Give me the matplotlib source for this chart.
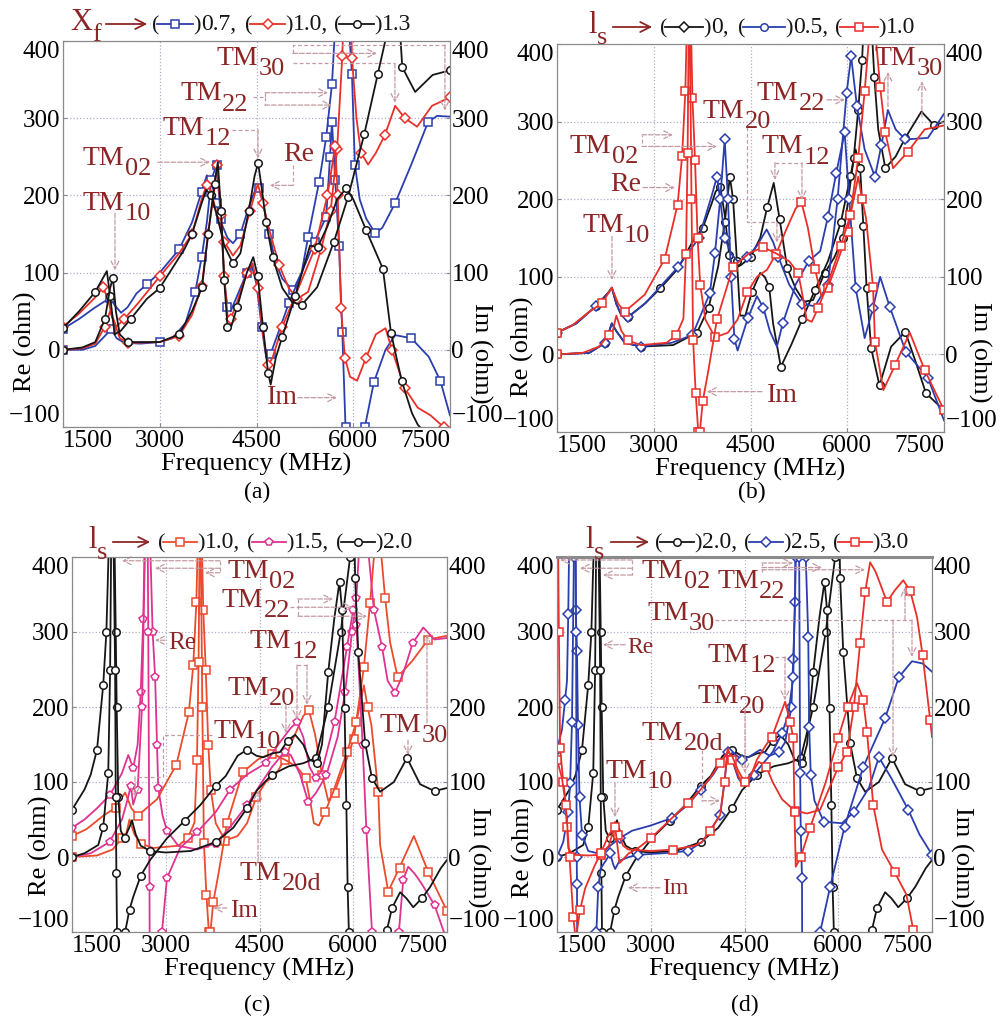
import matplotlib
matplotlib.use("Agg")
import matplotlib.pyplot as plt
from matplotlib.lines import Line2D
from matplotlib.patches import FancyArrowPatch
from matplotlib.text import Annotation

W, H = 1002, 1025
plt.rcParams["font.family"] = ["Liberation Serif", "DejaVu Serif"]

BLUE = "#2b3eae"
RED = "#e8302a"
ORANGE = "#ec4a2c"
PINK = "#e03290"
BLACK = "#161616"
DARK = "#8c2626"
ARROW = "#c49aa2"
GRID = "#b4accb"
SPINE = "#8a8a8a"

FREQ_TICKS = [1500, 3000, 4500, 6000, 7500]
OHM_TICKS = [-100, 0, 100, 200, 300, 400]

# ---- (a) feed position X_f = 0.7 / 1.0 / 1.3 ----
A_BLUE_RE_F = [1500, 1750, 2000, 2150, 2230, 2300, 2400, 2500, 2640, 2800, 3000, 3300, 3500, 3650, 3730, 3800, 3880, 3950, 4050, 4135, 4250, 4380, 4480, 4540, 4600, 4700, 4790, 4900, 5065, 5200, 5300, 5470, 5580, 5670, 5720, 5780, 5850, 5930, 5980, 6025, 6100, 6200, 6340, 6450, 6650, 6900, 7160, 7300, 7500]
A_BLUE_RE = [27, 40, 55, 63, 67, 58, 48, 55, 73, 85, 100, 130, 165, 205, 226, 218, 190, 165, 145, 138, 150, 185, 207, 210, 190, 150, 115, 92, 77, 100, 146, 217, 275, 344, 420, 500, 500, 420, 357, 240, 195, 170, 151, 158, 190, 240, 295, 303, 302]
A_BLUE_IM_F = [1500, 1800, 2000, 2150, 2250, 2330, 2450, 2700, 3000, 3200, 3400, 3550, 3650, 3730, 3800, 3880, 3950, 4000, 4050, 4100, 4200, 4350, 4430, 4500, 4580, 4650, 4720, 4850, 5000, 5200, 5400, 5580, 5640, 5670, 5720, 5780, 5830, 5880, 5950, 6150, 6180, 6320, 6500, 6650, 6900, 7170, 7350, 7500]
A_BLUE_IM = [0, 0, 5, 18, 27, 15, 9, 8, 10, 15, 35, 75, 120, 165, 220, 240, 170, 90, 55, 50, 70, 100, 108, 85, 30, -10, -5, 25, 60, 100, 140, 172, 250, 295, 220, 134, 23, -100, -300, -300, -100, -42, 0, 19, 15, -9, -40, -85]
A_RED_RE_F = [1500, 1750, 2000, 2120, 2200, 2260, 2330, 2450, 2660, 3000, 3300, 3500, 3650, 3730, 3800, 3900, 4000, 4135, 4250, 4400, 4520, 4600, 4700, 4850, 5000, 5130, 5300, 5500, 5650, 5750, 5830, 5870, 5950, 5980, 6050, 6120, 6230, 6350, 6490, 6650, 6800, 6990, 7220, 7500]
A_RED_RE = [30, 47, 68, 81, 65, 42, 30, 40, 60, 95, 125, 150, 195, 214, 205, 170, 140, 122, 135, 180, 215, 190, 155, 110, 80, 66, 75, 130, 180, 260, 380, 480, 480, 378, 300, 255, 240, 255, 278, 316, 300, 289, 316, 327]
A_RED_IM_F = [1500, 1800, 2000, 2150, 2230, 2280, 2380, 2500, 3000, 3300, 3500, 3650, 3750, 3850, 3890, 3950, 4000, 4050, 4100, 4200, 4350, 4440, 4520, 4600, 4680, 4750, 4900, 5100, 5400, 5600, 5720, 5760, 5810, 5870, 5950, 6060, 6200, 6350, 6500, 6600, 6800, 7000, 7200, 7400, 7500]
A_RED_IM = [0, 2, 8, 30, 50, 40, 15, 9, 10, 18, 45, 82, 150, 210, 240, 175, 95, 45, 40, 62, 100, 112, 80, 20, -20, -10, 30, 70, 130, 200, 264, 200, 54, -10, -35, -40, -10, 20, 28, 0, -50, -75, -85, -100, -115]
A_BLACK_RE_F = [1500, 1750, 2000, 2100, 2180, 2230, 2300, 2400, 2550, 2800, 3000, 3380, 3500, 3650, 3720, 3800, 3900, 4000, 4135, 4250, 4380, 4470, 4525, 4580, 4650, 4750, 4900, 5050, 5200, 5440, 5700, 5920, 6170, 6380, 6550, 6650, 6720, 6760, 6960, 7230, 7500]
A_BLACK_RE = [28, 50, 75, 90, 102, 70, 20, 25, 40, 66, 80, 130, 150, 190, 207, 200, 170, 135, 112, 125, 180, 225, 242, 210, 165, 120, 80, 62, 58, 81, 140, 198, 279, 357, 420, 480, 420, 366, 334, 356, 362]
A_BLACK_IM_F = [1500, 1800, 2000, 2150, 2230, 2275, 2320, 2380, 2500, 3000, 3300, 3500, 3655, 3750, 3850, 3900, 3950, 4000, 4050, 4100, 4200, 4350, 4450, 4520, 4600, 4680, 4720, 4800, 4900, 5100, 5330, 5450, 5600, 5750, 5890, 6000, 6200, 6460, 6585, 6750, 6910, 7000, 7200]
A_BLACK_IM = [0, 3, 10, 40, 80, 93, 50, 20, 10, 10, 20, 50, 81, 150, 215, 243, 180, 90, 30, 28, 55, 100, 120, 95, 30, -30, -45, -10, 17, 70, 135, 133, 160, 195, 209, 195, 155, 105, 22, -40, -82, -97, -115]

# ---- (b) stub length l_s = 0 / 0.5 / 1.0 ----
B_BLACK_RE_F = [1500, 1800, 2100, 2300, 2350, 2420, 2500, 2600, 2870, 3100, 3370, 3600, 3760, 3900, 3960, 4030, 4100, 4170, 4230, 4350, 4500, 4650, 4760, 4860, 4950, 5070, 5200, 5330, 5470, 5650, 5800, 5930, 6000, 6100, 6170, 6230, 6270, 6360, 6420, 6480, 6590, 6750, 6900, 7150, 7350, 7500]
B_BLACK_RE = [28, 40, 62, 80, 86, 65, 50, 48, 66, 85, 110, 145, 163, 195, 210, 216, 180, 128, 110, 115, 125, 150, 190, 221, 175, 111, 85, 68, 70, 105, 125, 150, 190, 253, 315, 380, 450, 450, 357, 290, 240, 255, 279, 313, 295, 300]
B_BLACK_IM_F = [1500, 2000, 2250, 2350, 2420, 2550, 2800, 3300, 3670, 3850, 4000, 4100, 4180, 4230, 4290, 4340, 4420, 4520, 4650, 4720, 4790, 4850, 4970, 5130, 5300, 5500, 5700, 5900, 6050, 6130, 6200, 6250, 6300, 6370, 6500, 6680, 6900, 7050, 7220, 7500]
B_BLACK_IM = [0, 2, 15, 40, 30, 15, 10, 12, 28, 60, 114, 170, 229, 200, 120, 50, 50, 80, 105, 100, 87, 40, -16, 12, 45, 83, 120, 170, 230, 264, 240, 165, 86, 8, -40, 10, 29, -7, -50, -72]
B_BLUE_RE_F = [1500, 1800, 2100, 2300, 2350, 2420, 2500, 2600, 2870, 3370, 3700, 3900, 3980, 4030, 4100, 4200, 4300, 4450, 4600, 4750, 4850, 4930, 5100, 5300, 5500, 5700, 5850, 5990, 6060, 6150, 6270, 6430, 6530, 6630, 6750, 6900, 7250, 7500]
B_BLUE_RE = [28, 40, 62, 80, 86, 65, 50, 48, 66, 112, 150, 205, 229, 200, 150, 130, 120, 125, 140, 161, 145, 126, 90, 65, 62, 90, 200, 337, 384, 320, 264, 229, 270, 315, 290, 277, 279, 310]
B_BLUE_IM_F = [1500, 2000, 2250, 2350, 2420, 2550, 2800, 3280, 3600, 3870, 3950, 4030, 4100, 4150, 4200, 4250, 4300, 4460, 4600, 4700, 4800, 4910, 5000, 5200, 5400, 5580, 5700, 5830, 5960, 6030, 6130, 6270, 6400, 6510, 6660, 6910, 7250, 7500]
B_BLUE_IM = [0, 2, 15, 40, 30, 15, 10, 15, 25, 79, 131, 200, 277, 200, 100, 20, 5, 47, 75, 60, 30, 10, 40, 90, 120, 133, 177, 234, 286, 200, 86, 21, 60, 100, 61, 3, -30, -85]

# l_s = 1.0 appears in (b) and (c)
LS10_RE_F = [1500, 1730, 2000, 2200, 2350, 2450, 2550, 2860, 3170, 3370, 3440, 3490, 3520, 3570, 3600, 3640, 3680, 3720, 3800, 3950, 4150, 4300, 4450, 4600, 4755, 4900, 5050, 5200, 5290, 5390, 5500, 5600, 5700, 5850, 6010, 6170, 6270, 6350, 6430, 6510, 6590, 6710, 6940, 7200, 7500]
LS10_RE = [28, 37, 55, 66, 86, 65, 55, 77, 123, 193, 256, 340, 450, 450, 330, 250, 150, 90, 45, 22, 28, 45, 80, 100, 109, 130, 160, 188, 196, 163, 110, 75, 86, 120, 158, 253, 339, 420, 420, 345, 286, 240, 261, 290, 295]
LS10_IM_F = [1500, 1900, 2150, 2300, 2370, 2420, 2500, 2600, 2800, 3200, 3350, 3460, 3500, 3525, 3545, 3560, 3585, 3610, 3650, 3690, 3705, 3715, 3760, 3840, 3980, 4230, 4490, 4700, 4900, 5100, 5240, 5320, 5370, 5450, 5550, 5680, 5900, 6050, 6170, 6230, 6290, 6400, 6430, 6560, 6740, 6970, 7200, 7500]
LS10_IM = [0, 2, 10, 25, 32, 50, 30, 18, 12, 15, 25, 46, 130, 260, 450, 420, 200, 19, -50, -100, -400, -100, -60, -24, 45, 113, 131, 138, 130, 120, 105, 70, 45, 42, 60, 87, 140, 180, 229, 200, 176, 87, 16, -46, -14, 28, -20, -72]

# ---- (c) l_s = 1.5 ----
C_PINK_RE_F = [1500, 1700, 1900, 2110, 2300, 2400, 2480, 2550, 2600, 2640, 2670, 2700, 2740, 2790, 2830, 2860, 2880, 2950, 3020, 3200, 3500, 3800, 4030, 4300, 4500, 4700, 4900, 5000, 5150, 5280, 5400, 5570, 5750, 5870, 5980, 6050, 6100, 6170, 6250, 6330, 6460, 6550, 6670, 6800, 6950, 7120, 7300, 7500]
C_PINK_RE = [39, 50, 65, 83, 112, 136, 119, 150, 220, 318, 450, 600, 450, 300, 240, 150, 92, 55, 35, 15, 10, 18, 40, 69, 95, 120, 140, 136, 110, 73, 85, 109, 160, 220, 300, 345, 420, 450, 400, 330, 280, 235, 219, 245, 285, 306, 290, 292]
C_PINK_IM_F = [1500, 1800, 2100, 2300, 2400, 2440, 2480, 2550, 2620, 2670, 2700, 2720, 2740, 2760, 2920, 2940, 3020, 3230, 3500, 3800, 4030, 4300, 4600, 4800, 5000, 5100, 5200, 5300, 5400, 5500, 5700, 5900, 6000, 6050, 6150, 6210, 6300, 6330, 6700, 6730, 6800, 6880, 6980, 7090, 7300, 7450, 7500]
C_PINK_IM = [0, 5, 20, 50, 80, 95, 70, 90, 200, 420, 600, 300, -40, -600, -600, -100, -28, 12, 33, 60, 90, 110, 125, 150, 172, 180, 160, 120, 105, 115, 180, 280, 330, 310, 150, 36, -100, -600, -600, -100, -30, -13, -22, -35, -64, -100, -110]

# l_s = 2.0 appears in (c) and (d)
LS20_RE_F = [1500, 1700, 1800, 1900, 2000, 2050, 2090, 2120, 2150, 2180, 2200, 2215, 2240, 2280, 2340, 2420, 2460, 2520, 2600, 2750, 3000, 3400, 3800, 4080, 4300, 4460, 4700, 4970, 5200, 5400, 5600, 5800, 5950, 6000, 6020, 6030, 6080, 6190, 6300, 6430, 6650, 6860, 7070, 7300, 7500]
LS20_RE = [63, 90, 110, 143, 230, 300, 420, 600, 600, 420, 300, 200, 80, 35, 25, 40, 49, 30, 15, 8, 6, 8, 20, 39, 65, 89, 110, 121, 125, 132, 200, 300, 400, 480, 420, 372, 273, 152, 105, 87, 100, 132, 97, 88, 92]
LS20_IM_F = [1500, 1700, 1920, 2000, 2080, 2110, 2130, 2160, 2190, 2200, 2210, 2220, 2240, 2330, 2350, 2420, 2480, 2600, 2750, 3020, 3300, 3550, 3800, 3960, 4150, 4300, 4450, 4560, 4700, 4830, 4950, 5070, 5200, 5300, 5420, 5500, 5600, 5700, 5780, 5820, 5860, 5890, 5910, 5930, 5950, 6500, 6540, 6620, 6750, 6850, 6960, 7100, 7230, 7400, 7500]
LS20_IM = [0, 5, 16, 40, 112, 250, 450, 450, 250, 80, -21, -100, -600, -600, -100, -70, -53, -25, -4, 25, 48, 69, 95, 108, 135, 143, 135, 133, 138, 140, 155, 163, 150, 130, 125, 150, 247, 320, 367, 330, 199, 69, -40, -100, -600, -600, -97, -68, -47, -55, -67, -55, -40, -15, -4]

# ---- (d) l_s = 2.5 / 3.0 ----
D_BLUE_RE_F = [1500, 1580, 1630, 1660, 1680, 1700, 1720, 1760, 1800, 1820, 1835, 1860, 1900, 2000, 2200, 2350, 2500, 2700, 3000, 3340, 3600, 3800, 4000, 4150, 4270, 4460, 4600, 4750, 4900, 5050, 5150, 5250, 5280, 5310, 5330, 5420, 5480, 5520, 5535, 5560, 5620, 5770, 6060, 6250, 6490, 6650, 6850, 7120, 7300, 7500]
D_BLUE_RE = [143, 170, 210, 235, 324, 450, 650, 650, 330, 275, 176, 80, 30, 8, 4, 15, 25, 35, 42, 52, 70, 90, 110, 130, 143, 129, 135, 143, 135, 140, 153, 200, 264, 340, 600, 700, 400, 293, 173, 110, 75, 47, 45, 60, 92, 133, 105, 63, 30, 3]
D_BLUE_IM_F = [1500, 1600, 1680, 1710, 1740, 1770, 1790, 1805, 1815, 1820, 1830, 1840, 2100, 2130, 2160, 2200, 2280, 2350, 2400, 2430, 2500, 2650, 2800, 3200, 3600, 3820, 3950, 4110, 4180, 4230, 4300, 4400, 4500, 4650, 4800, 4950, 5100, 5200, 5280, 5320, 5345, 5375, 5390, 5400, 5420, 5440, 5690, 5710, 5870, 6100, 6400, 6750, 6970, 7180, 7350, 7500]
D_BLUE_IM = [0, 20, 60, 99, 180, 400, 700, 300, 0, -36, -300, -700, -700, -100, -40, -15, -5, 5, -10, -16, -5, 0, 3, 5, 8, 20, 35, 56, 100, 140, 130, 105, 95, 110, 125, 140, 165, 190, 240, 400, 700, 400, 112, 35, -28, -700, -700, -100, -40, 40, 120, 185, 240, 261, 258, 247]
D_RED_RE_F = [1500, 1530, 1550, 1600, 1630, 1660, 1680, 1750, 2000, 2200, 2330, 2400, 2430, 2480, 2560, 2640, 3000, 3360, 3700, 3820, 3950, 4110, 4180, 4230, 4300, 4460, 4600, 4730, 4850, 4950, 5100, 5300, 5500, 5710, 6000, 6140, 6250, 6350, 6430, 6510, 6600, 6780, 6900, 7040, 7150, 7260, 7350, 7470, 7500]
D_RED_RE = [600, 300, 145, 100, 80, 40, 12, 3, 2, 3, 15, 35, 47, 30, 15, 10, 8, 10, 15, 20, 35, 56, 100, 145, 130, 96, 110, 127, 120, 100, 77, 62, 58, 63, 120, 140, 200, 285, 353, 393, 380, 340, 355, 369, 355, 320, 269, 183, 160]
D_RED_IM_F = [1500, 1580, 1640, 1700, 1760, 1800, 1870, 1950, 2100, 2200, 2330, 2430, 2500, 2650, 2800, 3000, 3340, 3600, 3800, 3950, 4100, 4230, 4300, 4400, 4500, 4600, 4700, 4850, 4940, 5050, 5150, 5230, 5280, 5300, 5320, 5400, 5550, 5800, 6000, 6150, 6300, 6400, 6460, 6560, 6700, 6900, 7090, 7200, 7300]
D_RED_IM = [130, 105, 70, 0, -80, -110, -70, -42, -12, 5, 30, 40, -8, 5, 12, 25, 52, 72, 90, 105, 125, 140, 135, 115, 100, 108, 130, 150, 160, 185, 207, 180, 159, 60, -13, 0, 39, 100, 159, 200, 232, 210, 167, 69, 10, -20, -50, -97, -200]


fig = plt.figure(figsize=(W / 100, H / 100), dpi=100)


def fpt(px, py):
    return px / W, 1 - py / H


def px_axes(x0, y0, x1, y1):
    return fig.add_axes([x0 / W, 1 - y1 / H, (x1 - x0) / W, (y1 - y0) / H])


def dress(ax, re_pos, im_pos):
    ax.set_xlim(1500, 7500)
    ax.set_ylim(-100, 400)
    ax.set_xticks(FREQ_TICKS)
    ax.set_yticks(OHM_TICKS)
    ax.set_axisbelow(True)
    ax.grid(True, ls=":", color=GRID, lw=0.9)
    ax.tick_params(direction="in", length=3, color=SPINE, labelsize=18, pad=2)
    im = ax.twinx()
    im.set_ylim(-100, 400)
    im.set_yticks(OHM_TICKS)
    im.tick_params(direction="in", length=3, color=SPINE, labelsize=18, pad=1)
    for a in (ax, im):
        for s in a.spines.values():
            s.set_color(SPINE)
        yl = a.get_yticklabels()
        yl[0].set_va("bottom")
        yl[-1].set_va("top")
    xl = ax.get_xticklabels()
    xl[0].set_ha("left")
    xl[-1].set_ha("right")
    ax.set_xlabel("Frequency (MHz)", fontsize=19, labelpad=1)
    ax.set_ylabel("Re (ohm)", fontsize=19, va="center")
    ax.yaxis.set_label_coords(*re_pos)
    im.set_ylabel("Im (ohm)", fontsize=19, rotation=270, va="center")
    im.yaxis.set_label_coords(*im_pos)
    return im


def trace(ax, f, v, color, marker):
    ms = {"D": 4.6, "p": 5.6}.get(marker, 5.4)
    ax.plot(f, v, color=color, lw=1.3, marker=marker, ms=ms, mfc="white",
            mec=color, mew=1.1, markevery=0.1)


def mode(ax, x, y, sub, size=20):
    t = ax.text(x, y, "TM", color=DARK, fontsize=size, ha="left", va="baseline")
    ax.annotate(sub, xy=(1, 0), xycoords=t, xytext=(0.3, -3), textcoords="offset points",
                color=DARK, fontsize=size - 1, ha="left", va="baseline")


def word(ax, x, y, s, size=20):
    ax.text(x, y, s, color=DARK, fontsize=size, ha="left", va="baseline")


def dash(ax, pts):
    xs, ys = zip(*pts)
    ax.plot(xs, ys, ls="--", color=ARROW, lw=0.9, dashes=(3, 2))


def pointer(ax, pts):
    if len(pts) > 2:
        dash(ax, pts[:-1])
    ax.annotate("", xy=pts[-1], xytext=pts[-2],
                arrowprops=dict(arrowstyle="->", color=ARROW, lw=0.9, ls="--",
                                shrinkA=0, shrinkB=0, mutation_scale=14))


def key_row(sym, sub, sym_x, base_y, arrow_x, entries):
    t = fig.text(*fpt(sym_x, base_y), sym, color=DARK, fontsize=22, va="baseline")
    fig.add_artist(Annotation(sub, xy=(1, 0), xycoords=t, xytext=(0.3, -3),
                              textcoords="offset points", color=DARK, fontsize=19,
                              va="baseline"))
    fig.add_artist(FancyArrowPatch(fpt(arrow_x[0], base_y - 6), fpt(arrow_x[1], base_y - 6),
                                   transform=fig.transFigure, arrowstyle="->",
                                   mutation_scale=18, color=DARK, lw=1.3))
    for x_open, x_close, marker, color, value in entries:
        fig.text(*fpt(x_open, base_y), "(", fontsize=16, va="baseline", color=BLACK)
        ym = 1 - (base_y - 6) / H
        fig.add_artist(Line2D([(x_open + 5) / W, x_close / W], [ym, ym],
                              transform=fig.transFigure, color=color, lw=1.3))
        fig.add_artist(Line2D([(x_open + x_close + 5) / 2 / W], [ym], marker=marker,
                              ms=5.4, mfc="white", mec=color, mew=1.1,
                              transform=fig.transFigure))
        fig.text(*fpt(x_close, base_y), ")", fontsize=16, va="baseline", color=BLACK)
        fig.text(*fpt(x_close + 8, base_y), value, fontsize=17, va="baseline", color=BLACK)


# ---------------- (a) ----------------
axa = px_axes(63, 41, 450, 427)
dress(axa, (-0.098, 0.22), (1.078, 0.19))
trace(axa, A_BLUE_RE_F, A_BLUE_RE, BLUE, "s")
trace(axa, A_BLUE_IM_F, A_BLUE_IM, BLUE, "s")
trace(axa, A_RED_RE_F, A_RED_RE, RED, "D")
trace(axa, A_RED_IM_F, A_RED_IM, RED, "D")
trace(axa, A_BLACK_RE_F, A_BLACK_RE, BLACK, "o")
trace(axa, A_BLACK_IM_F, A_BLACK_IM, BLACK, "o")
mode(axa, 3887, 369, "30")
pointer(axa, [(5065, 384), (6367, 384)])
pointer(axa, [(5065, 384), (5065, 395), (7421, 395), (7421, 310)])
pointer(axa, [(5065, 371), (6646, 371), (6646, 320)])
mode(axa, 3314, 323, "22")
pointer(axa, [(4445, 327), (4631, 327), (4631, 333), (5608, 333)])
pointer(axa, [(4631, 327), (4631, 317), (5670, 317)])
mode(axa, 3050, 278, "12")
pointer(axa, [(4120, 285), (4523, 285), (4523, 248)])
mode(axa, 1810, 239, "02")
pointer(axa, [(2972, 243), (3779, 243)])
mode(axa, 1810, 181, "10")
pointer(axa, [(2306, 177), (2306, 103)])
word(axa, 4910, 244, "Re")
pointer(axa, [(5065, 239), (5065, 213), (4708, 213)])
word(axa, 4662, -70, "Im")
pointer(axa, [(5142, -62), (5747, -62)])
key_row("X", "f", 70, 30, (103, 150),
        [(152, 193, "s", BLUE, "0.7,"), (245, 285, "D", RED, "1.0,"), (334, 374, "o", BLACK, "1.3")])

# ---------------- (b) ----------------
axb = px_axes(557, 44, 944, 432)
dress(axb, (-0.088, 0.22), (1.093, 0.205))
trace(axb, B_BLACK_RE_F, B_BLACK_RE, BLACK, "o")
trace(axb, B_BLACK_IM_F, B_BLACK_IM, BLACK, "o")
trace(axb, B_BLUE_RE_F, B_BLUE_RE, BLUE, "D")
trace(axb, B_BLUE_IM_F, B_BLUE_IM, BLUE, "D")
trace(axb, LS10_RE_F, LS10_RE, RED, "s")
trace(axb, LS10_IM_F, LS10_IM, RED, "s")
mode(axb, 1888, 158, "10")
pointer(axb, [(2352, 152), (2352, 96)])
mode(axb, 1700, 260, "02")
pointer(axb, [(2818, 273), (2818, 283), (3298, 283)])
pointer(axb, [(2818, 268), (3980, 268)])
word(axb, 2322, 210, "Re")
pointer(axb, [(2833, 215), (3329, 215)])
mode(axb, 3763, 305, "20")
pointer(axb, [(4445, 293), (4445, 170), (4910, 170), (4910, 144)])
mode(axb, 4600, 328, "22")
pointer(axb, [(5685, 328), (5964, 328)])
mode(axb, 4678, 259, "12")
dash(axb, [(4879, 247), (5298, 247)])
pointer(axb, [(4879, 247), (4879, 225)])
pointer(axb, [(5298, 247), (5298, 199)])
mode(axb, 6420, 373, "30")
pointer(axb, [(6631, 319), (6631, 364)])
pointer(axb, [(7158, 306), (7158, 352)])
word(axb, 4755, -61, "Im")
pointer(axb, [(4678, -48), (3825, -48)])
key_row("l", "s", 588, 33, (610, 655),
        [(660, 703, "D", BLACK, "0,"), (738, 785, "o", BLUE, "0.5,"), (835, 878, "s", RED, "1.0")])

# ---------------- (c) ----------------
axc = px_axes(72, 557, 447, 932)
dress(axc, (-0.085, 0.23), (1.083, 0.2))
trace(axc, LS10_RE_F, LS10_RE, ORANGE, "s")
trace(axc, LS10_IM_F, LS10_IM, ORANGE, "s")
trace(axc, C_PINK_RE_F, C_PINK_RE, PINK, "p")
trace(axc, C_PINK_IM_F, C_PINK_IM, PINK, "p")
trace(axc, LS20_RE_F, LS20_RE, BLACK, "o")
trace(axc, LS20_IM_F, LS20_IM, BLACK, "o")
mode(axc, 3980, 372, "02")
dash(axc, [(3868, 395), (3868, 379)])
pointer(axc, [(3868, 395), (2300, 395)])
pointer(axc, [(3868, 385), (2828, 385)])
pointer(axc, [(3868, 379), (3628, 379)])
mode(axc, 3900, 333, "22")
dash(axc, [(4988, 333), (5116, 333)])
dash(axc, [(5116, 344), (5116, 321)])
pointer(axc, [(5116, 344), (5676, 344)])
pointer(axc, [(5116, 333), (5996, 333)])
pointer(axc, [(5116, 321), (6220, 321)])
mode(axc, 4348, 279, "12")
dash(axc, [(5100, 256), (5260, 256)])
pointer(axc, [(5100, 256), (5100, 183)])
pointer(axc, [(5260, 256), (5260, 203)])
mode(axc, 3980, 216, "20")
pointer(axc, [(4924, 203), (4924, 165)])
mode(axc, 3756, 159, "10")
pointer(axc, [(3740, 163), (2956, 163), (2956, 107), (2508, 107), (2508, 80)])
word(axc, 3036, 277, "Re", 18)
pointer(axc, [(2990, 289), (2828, 289)])
mode(axc, 6428, 167, "30")
pointer(axc, [(6876, 156), (6876, 136)])
pointer(axc, [(7180, 179), (7180, 296)])
mode(axc, 4188, -31, "20d")
pointer(axc, [(4476, -8), (4476, 89)])
word(axc, 4028, -80, "Im", 18)
pointer(axc, [(3980, -68), (3756, -68)])
key_row("l", "s", 88, 548, (110, 153),
        [(158, 197, "s", ORANGE, "1.0,"), (247, 286, "p", PINK, "1.5,"), (336, 375, "o", BLACK, "2.0")])

# ---------------- (d) ----------------
axd = px_axes(557, 557, 932, 932)
dress(axd, (-0.09, 0.224), (1.08, 0.2))
axd.spines["top"].set_linewidth(2.2)
trace(axd, LS20_RE_F, LS20_RE, BLACK, "o")
trace(axd, LS20_IM_F, LS20_IM, BLACK, "o")
trace(axd, D_BLUE_RE_F, D_BLUE_RE, BLUE, "D")
trace(axd, D_BLUE_IM_F, D_BLUE_IM, BLUE, "D")
trace(axd, D_RED_RE_F, D_RED_RE, RED, "s")
trace(axd, D_RED_IM_F, D_RED_IM, RED, "s")
mode(axd, 2860, 372, "02")
dash(axd, [(2700, 396), (2700, 376)])
pointer(axd, [(2700, 396), (1548, 396)])
pointer(axd, [(2700, 385), (1868, 385)])
pointer(axd, [(2700, 376), (2236, 376)])
mode(axd, 4060, 359, "22")
dash(axd, [(4780, 380), (4780, 392)])
pointer(axd, [(4780, 392), (5276, 392)])
pointer(axd, [(4780, 386), (5740, 386)])
pointer(axd, [(4780, 383), (6428, 383)])
mode(axd, 2940, 316, "30")
dash(axd, [(4028, 316), (7180, 316)])
pointer(axd, [(6876, 316), (6876, 133)])
pointer(axd, [(7068, 316), (7068, 360)])
pointer(axd, [(7180, 316), (7180, 267)])
mode(axd, 3916, 260, "12")
pointer(axd, [(4988, 267), (5148, 267), (5148, 209)])
mode(axd, 3740, 205, "20")
pointer(axd, [(4508, 196), (4508, 112)])
mode(axd, 2860, 156, "20d")
pointer(axd, [(3820, 143), (3820, 75), (4108, 75)])
mode(axd, 2268, 105, "10")
pointer(axd, [(2428, 99), (2428, 53)])
word(axd, 2620, 272, "Re", 17)
pointer(axd, [(2588, 283), (2236, 283)])
word(axd, 3180, -49, "Im", 17)
pointer(axd, [(3148, -41), (2636, -41)])
key_row("l", "s", 585, 548, (608, 652),
        [(655, 694, "o", BLACK, "2.0,"), (744, 783, "D", BLUE, "2.5,"), (833, 872, "s", RED, "3.0")])

for lab, px, py in [("(a)", 257, 492), ("(b)", 752, 492), ("(c)", 257, 1005), ("(d)", 745, 1005)]:
    fig.text(*fpt(px, py), lab, fontsize=17, ha="center", va="center")

fig.savefig("out.png", dpi=100, facecolor="white")
